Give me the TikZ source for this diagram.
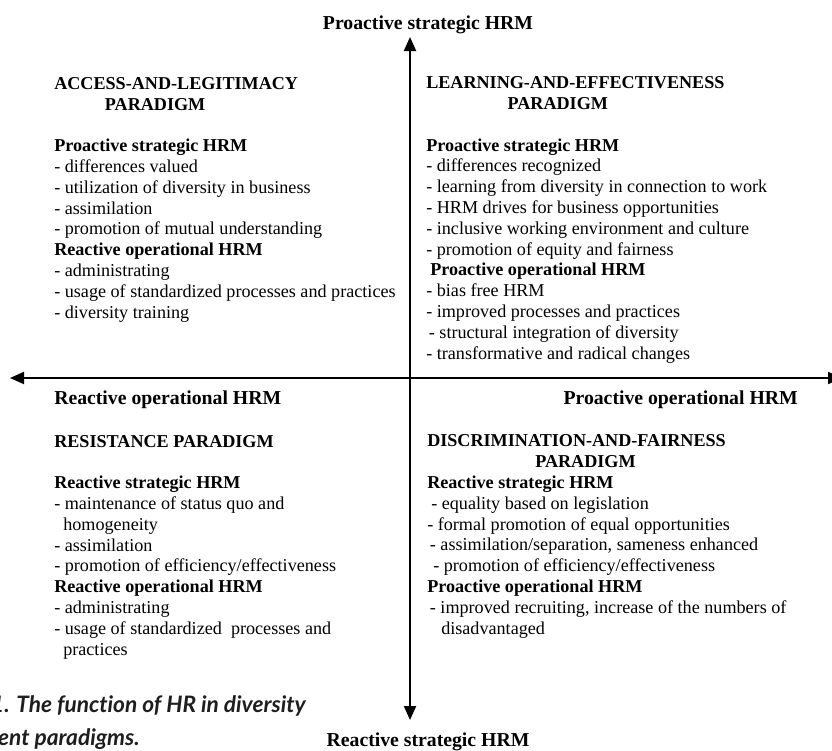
\documentclass[tikz,border=0pt]{standalone}
\usepackage{fontspec}
\setmainfont{Liberation Serif}
\newfontfamily\capfont[Ligatures=NoCommon]{Lato}
\usetikzlibrary{arrows.meta}
\definecolor{capgray}{HTML}{1E1E1E}
\begin{document}
\begin{tikzpicture}[x=0.75pt, y=-0.75pt,
  blk/.style={anchor=base west, align=left, inner sep=0pt, font=\fontsize{13.6}{15.6}\selectfont},
  axlabel/.style={inner sep=0pt, font=\fontsize{14.8}{17}\selectfont\bfseries},
  axis/.style={line width=1.5pt, {Triangle[length=10.5pt,width=9pt]}-{Triangle[length=10.5pt,width=9pt]}},
  caption/.style={anchor=base east, inner sep=0pt, text=capgray, font=\capfont\fontsize{17}{20}\selectfont\bfseries\itshape}]
\useasboundingbox (0,0) rectangle (832,750);
\clip (0,0) rectangle (832,750);
% axes
\coordinate (ytop) at (410,37);
\coordinate (ybot) at (410,720);
\coordinate (xleft) at (10,378);
\coordinate (xright) at (842,378);
\draw[axis] (ybot) -- (ytop);
\draw[axis] (xleft) -- (xright);
% axis labels
\node[axlabel, anchor=base] (ps) at (428,29) {Proactive strategic HRM};
\node[axlabel, anchor=base] (rs) at (428,746) {Reactive strategic HRM};
\node[axlabel, anchor=base west] (ro) at (54,404) {Reactive operational HRM};
\node[axlabel, anchor=base east] (po) at (798,404) {Proactive operational HRM};
% quadrants (placed by the baseline of their last line)
\node[blk] (access) at (54,318) {\textbf{ACCESS-AND-LEGITIMACY}\\
  \hspace{38pt}\textbf{PARADIGM}\\ \\
  \textbf{Proactive strategic HRM}\\
  - differences valued\\
  - utilization of diversity in business\\
  - assimilation\\
  - promotion of mutual understanding\\
  \textbf{Reactive operational HRM}\\
  - administrating\\
  - usage of standardized processes and practices\\
  - diversity training};
\node[blk] (learning) at (426,359) {\textbf{LEARNING-AND-EFFECTIVENESS}\\
  \hspace{61pt}\textbf{PARADIGM}\\ \\
  \textbf{Proactive strategic HRM}\\
  - differences recognized\\
  - learning from diversity in connection to work\\
  - HRM drives for business opportunities\\
  - inclusive working environment and culture\\
  - promotion of equity and fairness\\
  \hspace{3pt}\textbf{Proactive operational HRM}\\
  - bias free HRM\\
  - improved processes and practices\\
  \hspace{2pt}- structural integration of diversity\\
  - transformative and radical changes};
\node[blk] (resist) at (54,655) {\textbf{RESISTANCE PARADIGM}\\ \\
  \textbf{Reactive strategic HRM}\\
  - maintenance of status quo and\\
  \hspace{6.75pt}homogeneity\\
  - assimilation\\
  - promotion of efficiency/effectiveness\\
  \textbf{Reactive operational HRM}\\
  - administrating\\
  - usage of standardized\ \ processes and\\
  \hspace{6.75pt}practices};
\node[blk] (discrim) at (427,634) {\textbf{DISCRIMINATION-AND-FAIRNESS}\\
  \hspace{81pt}\textbf{PARADIGM}\\
  \textbf{Reactive strategic HRM}\\
  \hspace{3pt}- equality based on legislation\\
  - formal promotion of equal opportunities\\
  \hspace{2pt}- assimilation/separation, sameness enhanced\\
  \hspace{4.5pt}- promotion of efficiency/effectiveness\\
  \textbf{Proactive operational HRM}\\
  \hspace{2pt}- improved recruiting, increase of the numbers of\\
  \hspace{10.5pt}disadvantaged};
% caption, cut at the page edge
\node[caption] (cap1) at (306,712) {1. The function of HR in diversity};
\node[caption] (cap2) at (140,745) {ent paradigms.};
\end{tikzpicture}
\end{document}
